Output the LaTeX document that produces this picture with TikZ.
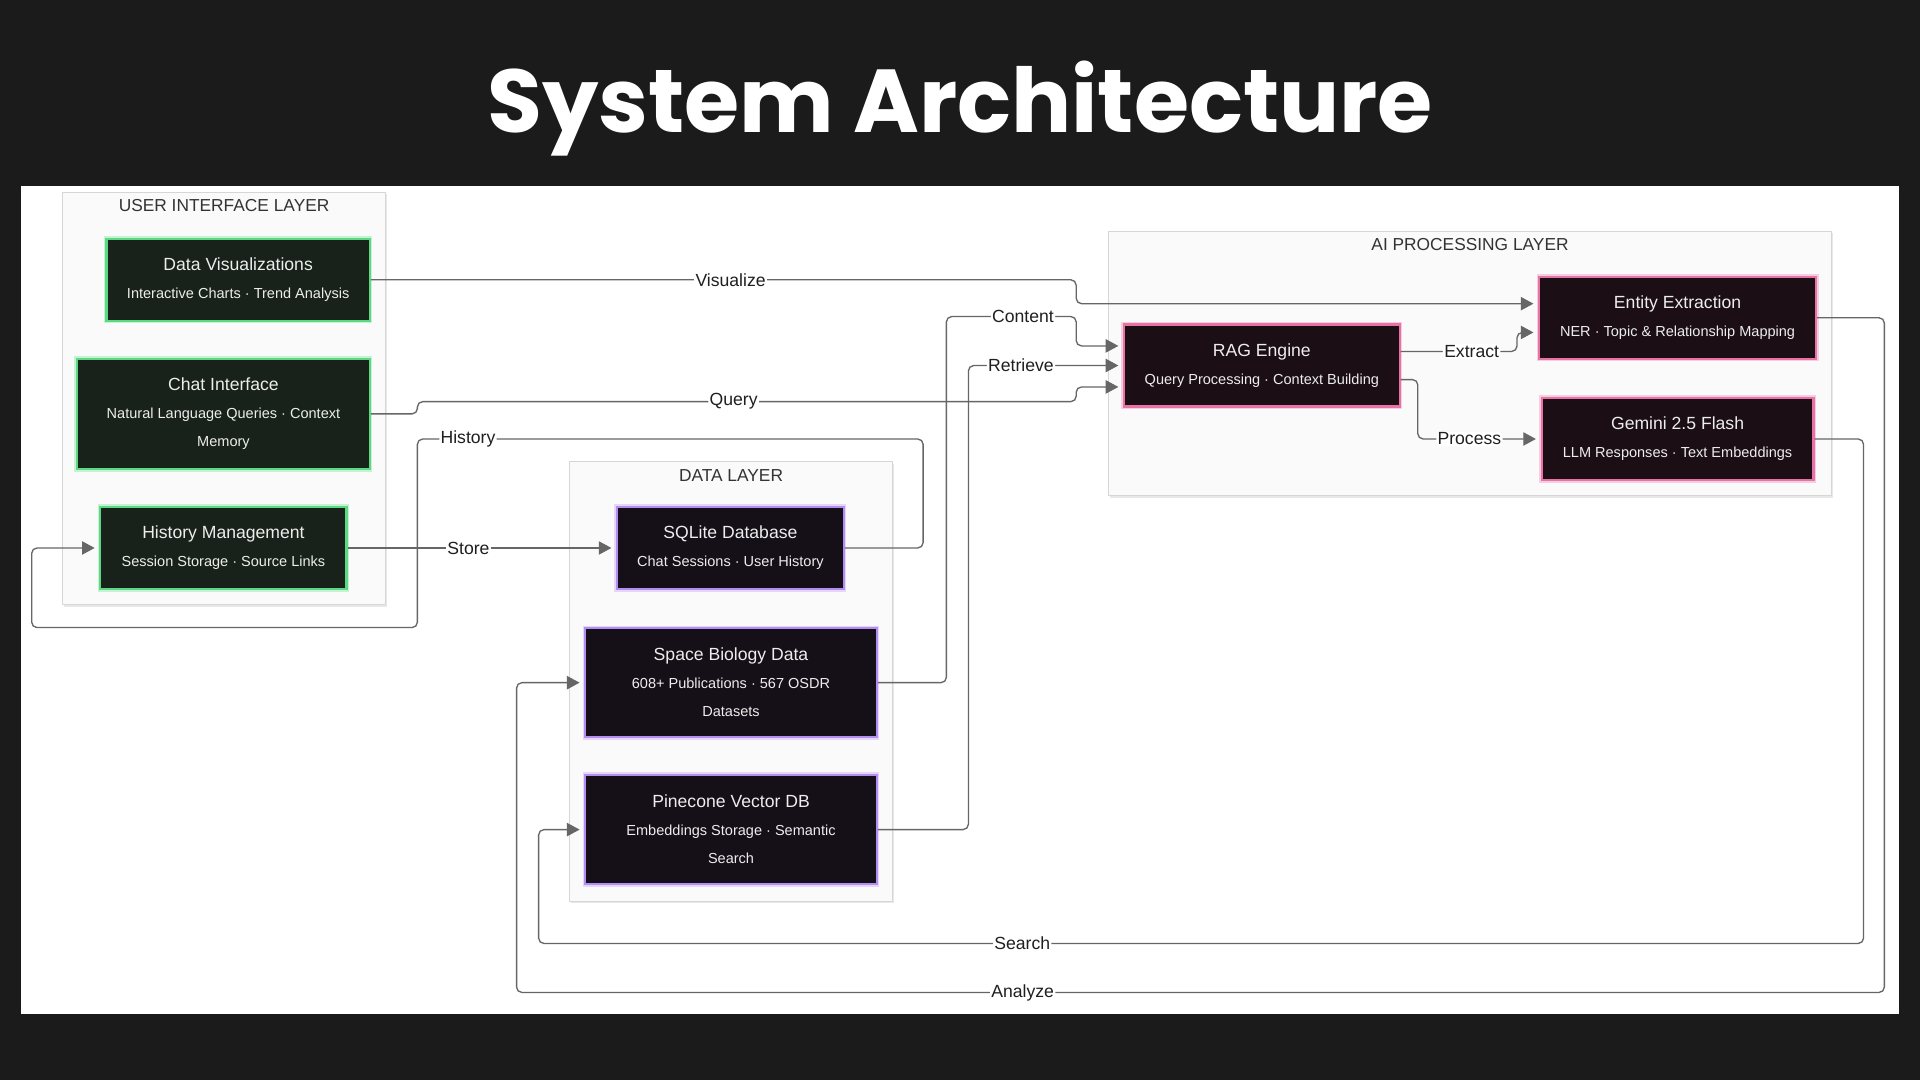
\documentclass[tikz,border=0pt]{standalone}
\usepackage{fontspec}
\setmainfont{Liberation Sans}
\newfontfamily\titlefont{Poppins}
\usetikzlibrary{arrows.meta,calc,shadows}
\newcommand\pxu{0.9184pt}
\newcommand\subline[1]{{\fontsize{10.9}{20}\selectfont #1}}
\definecolor{bgdark}{HTML}{1B1B1B}
\definecolor{layerfill}{HTML}{FAFAFA}
\definecolor{layerline}{HTML}{D6D6D6}
\definecolor{uifill}{HTML}{18221A}
\definecolor{uiline}{HTML}{5BD882}
\definecolor{datafill}{HTML}{150F18}
\definecolor{dataline}{HTML}{B48CF2}
\definecolor{aifill}{HTML}{1B0F15}
\definecolor{ailine}{HTML}{E872A6}
\definecolor{flowgray}{HTML}{666666}
\definecolor{boxtext}{HTML}{EDEDED}
\tikzset{
  layer/.style 2 args={rectangle,draw=layerline,fill=layerfill,line width=0.8pt,minimum width=#1*\pxu,minimum height=#2*\pxu,drop shadow={shadow xshift=1.2pt,shadow yshift=-1.5pt,opacity=0.18}},
  layerlabel/.style={font=\fontsize{13}{15}\selectfont,text=black!80},
  comp/.style 2 args={rectangle,minimum width=#1*\pxu,minimum height=#2*\pxu,inner sep=0pt,align=center,text=boxtext,line width=1.6pt,font=\fontsize{13.2}{21}\selectfont},
  uicomp/.style={fill=uifill,draw=uiline,preaction={draw=uiline!35,line width=4pt}},
  datacomp/.style={fill=datafill,draw=dataline,preaction={draw=dataline!35,line width=4pt}},
  aicomp/.style={fill=aifill,draw=ailine,preaction={draw=ailine!35,line width=4pt}}
}
\begin{document}
\begin{tikzpicture}[x=\pxu,y=-\pxu,
  flow/.style={draw=flowgray,line width=1pt,rounded corners=4pt,-{Triangle[length=9.5pt,width=10pt]},shorten >=3.5pt},
  lbl/.style={fill=white,inner sep=1pt,text=black!88,font=\fontsize{13.2}{15}\selectfont}]
\useasboundingbox (0,0) rectangle (1568,882);
\fill[bgdark] (0,0) rectangle (1568,882);
\fill[white] (17,152) rectangle (1551,828);
\node[font={\titlefont\bfseries\fontsize{67}{75}\selectfont},text=white,anchor=base] (title) at (784,108) {System Architecture};

% layers
\node[layer={264}{337}] (uilayer) at (183,325.5) {};
\node[layer={264}{359}] (datalayer) at (597,556.5) {};
\node[layer={591}{216}] (ailayer) at (1200.5,297) {};
\node[layerlabel] (uilabel) at ($(uilayer.north)+(0,11.5)$) {USER INTERFACE LAYER};
\node[layerlabel] (datalabel) at ($(datalayer.north)+(0,11.5)$) {DATA LAYER};
\node[layerlabel] (ailabel) at ($(ailayer.north)+(0,11.5)$) {AI PROCESSING LAYER};

% user interface
\node[comp={215}{67},uicomp] (dviz) at (194.5,228.5) {Data Visualizations\\\subline{Interactive Charts · Trend Analysis}};
\node[comp={239}{90},uicomp] (chat) at (182.5,338) {Chat Interface\\\subline{Natural Language Queries · Context}\\\subline{Memory}};
\node[comp={201}{67},uicomp] (hist) at (182.5,447.5) {History Management\\\subline{Session Storage · Source Links}};

% data
\node[comp={185}{67},datacomp] (sqlite) at (596.5,447.5) {SQLite Database\\\subline{Chat Sessions · User History}};
\node[comp={238}{89},datacomp] (sbio) at (597,557.5) {Space Biology Data\\\subline{608+ Publications · 567 OSDR}\\\subline{Datasets}};
\node[comp={238}{89},datacomp] (pine) at (597,677.5) {Pinecone Vector DB\\\subline{Embeddings Storage · Semantic}\\\subline{Search}};

% ai processing
\node[comp={225}{67},aicomp] (rag) at (1030.5,298.5) {RAG Engine\\\subline{Query Processing · Context Building}};
\node[comp={226}{67},aicomp] (entity) at (1370,259.5) {Entity Extraction\\\subline{NER · Topic \& Relationship Mapping}};
\node[comp={222}{67},aicomp] (gemini) at (1370,358.5) {Gemini 2.5 Flash\\\subline{LLM Responses · Text Embeddings}};

% connectors
\draw[flow] (dviz.east) -- node[lbl,pos=0.51]{Visualize} ++(576,0) |- ($(entity.west)+(0,-11.5)$);
\draw[flow] (chat.east) -- ++(38,0) -- ++(0,-10) -- node[lbl,pos=0.48]{Query} ++(538,0) |- ($(rag.west)+(0,17.5)$);
\draw[flow] (sbio.east) -- ++(56,0) -- ++(0,-299) -- node[lbl,pos=0.59]{Content} ++(106,0) |- ($(rag.west)+(0,-16)$);
\draw[flow] (pine.east) -- ++(74,0) |- node[lbl,pos=0.67]{Retrieve} (rag.west);
\draw[flow] (sqlite.east) -- ++(64,0) -- ++(0,-89) -- node[lbl,pos=0.9]{History} ++(-413,0) -- ++(0,154) -- ++(-315,0) |- (hist.west);
\draw[flow] (hist.east) -- node[lbl,pos=0.45]{Store} (sqlite.west);
\draw[flow] ($(rag.east)+(0,-11.5)$) -- node[lbl,pos=0.61]{Extract} ++(95,0) |- ($(entity.west)+(0,12)$);
\draw[flow] ($(rag.east)+(0,11.5)$) -- ++(14,0) |- node[lbl,pos=0.71]{Process} (gemini.west);
\draw[flow] (gemini.east) -- ++(40,0) -- ++(0,412) -- node[lbl,pos=0.635]{Search} ++(-1082,0) |- (pine.west);
\draw[flow] (entity.east) -- ++(55,0) -- ++(0,551) -- node[lbl,pos=0.63]{Analyze} ++(-1117,0) |- (sbio.west);
\end{tikzpicture}
\end{document}
